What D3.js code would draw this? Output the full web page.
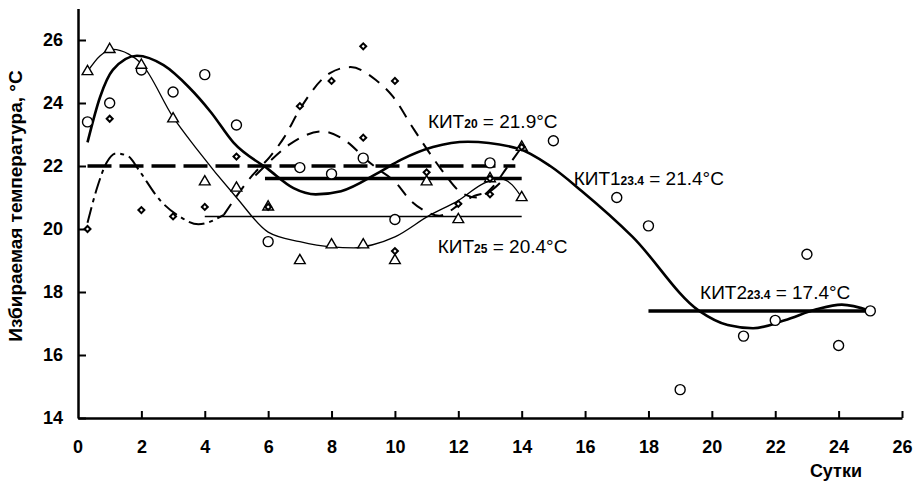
<!DOCTYPE html>
<html>
<head>
<meta charset="utf-8">
<script src="https://cdn.jsdelivr.net/npm/d3@7"></script>
<style>
  body { margin: 0; background: #fff; }
  svg { display: block; font-family: "Liberation Sans", Arial, sans-serif; }
</style>
</head>
<body>
<svg id="chart"></svg>
<script>
// --- data (day, temperature °C) ---
const circleDays  = [0.3, 1, 2, 3, 4, 5, 6, 7, 8, 9, 10, 13, 15, 17, 18, 19, 21, 22, 23, 24, 25];
const circleTemps = [23.4, 24.0, 25.05, 24.35, 24.9, 23.3, 19.6, 21.95, 21.75, 22.25, 20.3, 22.1, 22.8, 21.0, 20.1, 14.9, 16.6, 17.1, 19.2, 16.3, 17.4];

const triDays  = [0.3, 1, 2, 3, 4, 5, 6, 7, 8, 9, 10, 11, 12, 13, 14, 14];
const triTemps = [25.0, 25.7, 25.2, 23.5, 21.5, 21.3, 20.7, 19.0, 19.5, 19.5, 19.0, 21.5, 20.3, 21.6, 21.0, 22.6];

const diaDays  = [0.3, 1, 2, 3, 4, 5, 6, 7, 8, 9, 9, 10, 10, 11, 12, 13, 13, 14];
const diaTemps = [20.0, 23.5, 20.6, 20.4, 20.7, 22.3, 20.7, 23.9, 24.7, 25.8, 22.9, 24.7, 19.3, 21.8, 20.8, 21.1, 21.6, 22.6];

// fitted curves, knots
const fit234 = [[0.3,22.75],[0.7,24.2],[1.1,25.05],[1.86,25.5],[2.7,25.2],[3.5,24.5],[4.2,23.7],[4.9,22.75],[6,21.9],[6.8,21.3],[7.5,21.1],[8.3,21.2],[9.5,21.8],[10.2,22.2],[11.2,22.6],[12.3,22.77],[13.9,22.55],[14.9,22.0],[15.9,21.2],[17.5,19.75],[19.6,17.4],[20.5,16.95],[21.3,16.85],[22.3,17.1],[23.3,17.45],[24.1,17.6],[25,17.4]];
const fit25  = [[0.3,25.0],[0.7,25.5],[1.1,25.7],[1.6,25.55],[2,25.25],[3,23.55],[3.7,22.6],[5,21.0],[6,19.9],[7,19.6],[8,19.43],[8.7,19.4],[9.3,19.5],[10,19.75],[11.1,20.44],[12,20.9],[12.8,21.45],[13.3,21.6],[13.7,21.4],[14,21.0]];
const fit20a = [[0.3,20.2],[0.6,21.3],[0.9,22.1],[1.2,22.4],[1.6,22.3],[1.9,21.9],[2.6,20.9],[3.2,20.4],[3.8,20.15],[4.6,20.45]];
const fit20b = [[4.6,20.45],[5.5,21.7],[6.06,22.3],[6.5,22.9],[7,23.8],[7.95,24.95],[8.6,25.14],[9.4,24.73],[9.94,24.2],[10.55,23.24],[11.0,22.55],[11.5,21.84],[12.1,21.15],[12.6,21.0],[13.1,21.35],[13.5,21.9],[14,22.6]];
const fit20c = [[5.6,21.7],[6.0,22.1],[6.7,22.7],[7.7,23.1],[8.5,22.76],[9.1,22.2],[9.4,21.95],[10,21.5],[10.5,20.9],[10.9,20.6],[11.4,20.42],[12,20.75],[12.5,21.05],[13,21.2],[13.4,21.55]];

// КИТ levels
const kitStart = [0.3, 5.9, 4, 18];
const kitEnd   = [13.8, 14, 14, 25];
const kitValue = [22.0, 21.6, 20.4, 17.4];
const kitMain  = ["КИТ", "КИТ1", "КИТ", "КИТ2"];
const kitSub   = ["20", "23.4", "25", "23.4"];
const kitText  = [" = 21.9°C", " = 21.4°C", " = 20.4°C", " = 17.4°C"];
const kitAt    = [[11.04, 23.2], [15.64, 21.4], [11.35, 19.25], [19.63, 17.79]];

const xTicks = d3.range(0, 27, 2);
const yTicks = d3.range(14, 27, 2);

const width = 921, height = 489;
const svg = d3.select("#chart").attr("width", width).attr("height", height);

const x = d3.scaleLinear().domain([0, 26]).range([78, 902]);
const y = d3.scaleLinear().domain([14, 27]).range([418, 8.5]);

/* AXES */
const gx = svg.append("g").attr("transform", `translate(0,${y(14)})`);
gx.call(d3.axisBottom(x).tickValues(d3.range(1, 27, 2)).tickSize(-5).tickSizeOuter(0).tickFormat(""));
gx.call(d3.axisBottom(x).tickValues(xTicks.slice(1)).tickSize(-7).tickSizeOuter(0).tickPadding(22));
const gy = svg.append("g").attr("transform", `translate(${x(0)},0)`);
gy.call(d3.axisLeft(y).tickValues(d3.range(15, 28, 2)).tickSize(-6).tickSizeOuter(0).tickFormat(""));
gy.call(d3.axisLeft(y).tickValues(yTicks).tickSize(-8).tickSizeOuter(0).tickPadding(15));
svg.selectAll(".domain").attr("stroke", "#000").attr("stroke-width", 2.5);
svg.selectAll(".tick line").attr("stroke", "#000").attr("stroke-width", 2);
svg.selectAll(".tick text").attr("font-size", 18).attr("font-weight", "bold")
  .attr("font-family", "'Liberation Sans', Arial, sans-serif").attr("fill", "#000");
// zero label under the origin
gx.append("text").attr("x", x(0)).attr("y", 22).attr("dy", "0.71em")
  .attr("text-anchor", "middle").attr("font-size", 18).attr("font-weight", "bold")
  .attr("fill", "#000").text(xTicks[0]);

svg.append("text")
  .attr("transform", `translate(22,${206}) rotate(-90)`)
  .attr("text-anchor", "middle").attr("font-size", 19).attr("font-weight", "bold")
  .text("Избираемая температура, °С");
svg.append("text").attr("x", 862).attr("y", 477).attr("text-anchor", "end")
  .attr("font-size", 18).attr("font-weight", "bold").text("Сутки");

/* KIT LINES */
const kitStyle = [
  {w: 3.5, dash: "24,8"},
  {w: 3.5, dash: null},
  {w: 1.5, dash: null},
  {w: 3.5, dash: null}
];
kitValue.forEach((v, i) => {
  svg.append("line")
    .attr("x1", x(kitStart[i])).attr("x2", x(kitEnd[i]))
    .attr("y1", y(v)).attr("y2", y(v))
    .attr("stroke", "#000").attr("stroke-width", kitStyle[i].w)
    .attr("stroke-dasharray", kitStyle[i].dash);
});

/* FITTED CURVES */
const line = d3.line().x(d => x(d[0])).y(d => y(d[1])).curve(d3.curveMonotoneX);
const curves = [
  {data: fit234, w: 2.6, dash: null},
  {data: fit25,  w: 1.3, dash: null},
  {data: fit20a, w: 2, dash: "16,5,4,5"},
  {data: fit20b, w: 2, dash: "13,9"},
  {data: fit20c, w: 2, dash: "13,9"}
];
curves.forEach(c => {
  svg.append("path").attr("d", line(c.data))
    .attr("fill", "none").attr("stroke", "#000")
    .attr("stroke-width", c.w).attr("stroke-dasharray", c.dash);
});

/* POINTS */
const pts = svg.append("g");
pts.selectAll(".c").data(d3.zip(circleDays, circleTemps)).enter()
  .append("circle")
    .attr("cx", d => x(d[0])).attr("cy", d => y(d[1])).attr("r", 5)
    .attr("fill", "#fff").attr("stroke", "#000").attr("stroke-width", 1.4);
pts.selectAll(".t").data(d3.zip(triDays, triTemps)).enter()
  .append("path")
    .attr("d", d3.symbol(d3.symbolTriangle, 50))
    .attr("transform", d => `translate(${x(d[0])},${y(d[1])})`)
    .attr("fill", "#fff").attr("stroke", "#000").attr("stroke-width", 1.4);
pts.selectAll(".d").data(d3.zip(diaDays, diaTemps)).enter()
  .append("path")
    .attr("d", d3.symbol(d3.symbolSquare, 18))
    .attr("transform", d => `translate(${x(d[0])},${y(d[1])}) rotate(45)`)
    .attr("fill", "#fff").attr("stroke", "#000").attr("stroke-width", 2);

/* KIT LABELS */
kitAt.forEach((p, i) => {
  const t = svg.append("text").attr("x", x(p[0])).attr("y", y(p[1])).attr("font-size", 19);
  t.append("tspan").text(kitMain[i]);
  t.append("tspan").attr("font-size", 12).attr("font-weight", "bold").text(kitSub[i]);
  t.append("tspan").text(kitText[i]);
});
</script>
</body>
</html>
